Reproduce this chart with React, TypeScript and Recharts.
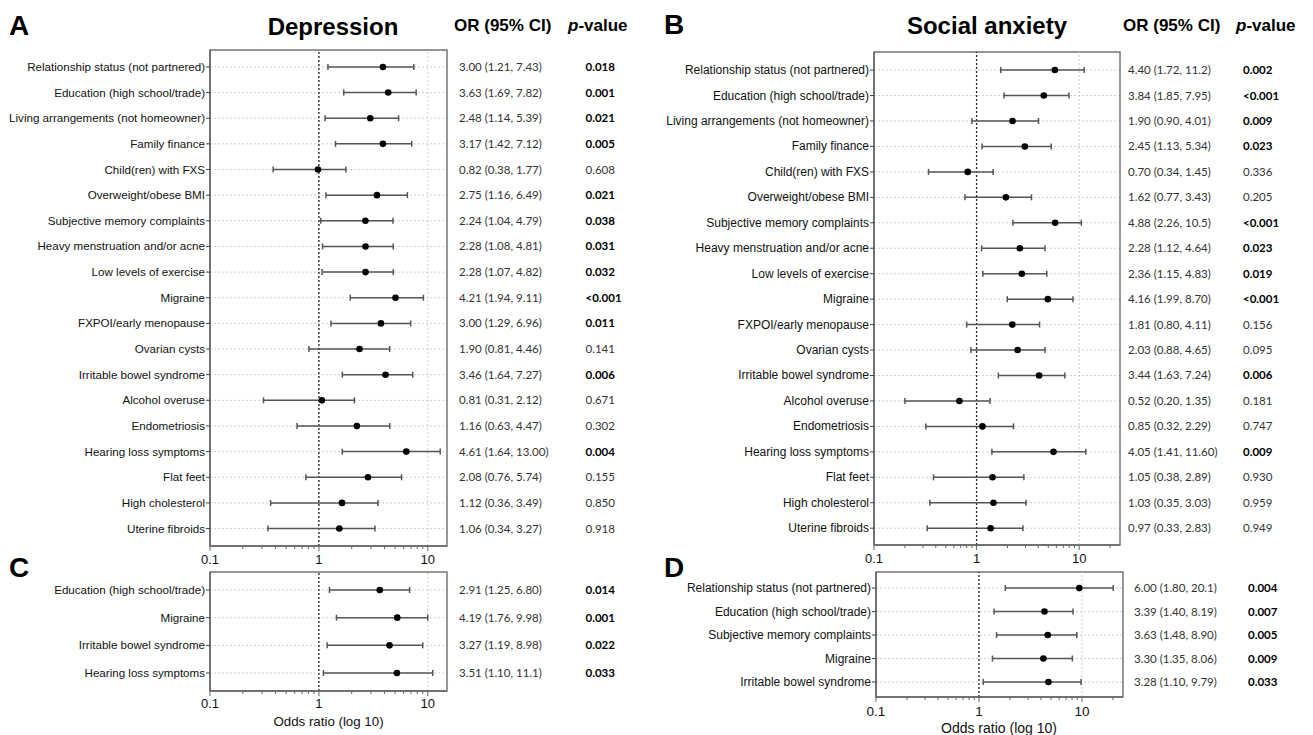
import React from 'react';
import {
  ScatterChart,
  Scatter,
  XAxis,
  YAxis,
  CartesianGrid,
  ErrorBar,
  ReferenceLine,
  ReferenceArea,
} from 'recharts';

// ---- data ----
const factorsFull = [
  'Relationship status (not partnered)',
  'Education (high school/trade)',
  'Living arrangements (not homeowner)',
  'Family finance',
  'Child(ren) with FXS',
  'Overweight/obese BMI',
  'Subjective memory complaints',
  'Heavy menstruation and/or acne',
  'Low levels of exercise',
  'Migraine',
  'FXPOI/early menopause',
  'Ovarian cysts',
  'Irritable bowel syndrome',
  'Alcohol overuse',
  'Endometriosis',
  'Hearing loss symptoms',
  'Flat feet',
  'High cholesterol',
  'Uterine fibroids',
];

// A: depression
const depDot = [3.87, 4.33, 2.96, 3.87, 0.98, 3.41, 2.67, 2.68, 2.68, 5.05, 3.71, 2.36, 4.09, 1.065, 2.23, 6.34, 2.82, 1.63, 1.54];
const depLow = [1.21, 1.69, 1.14, 1.42, 0.38, 1.16, 1.04, 1.08, 1.07, 1.94, 1.29, 0.81, 1.64, 0.31, 0.63, 1.64, 0.76, 0.36, 0.34];
const depHigh = [7.43, 7.82, 5.39, 7.12, 1.77, 6.49, 4.79, 4.81, 4.82, 9.11, 6.96, 4.46, 7.27, 2.12, 4.47, 13.0, 5.74, 3.49, 3.27];
const depCI = [
  '3.00 (1.21, 7.43)', '3.63 (1.69, 7.82)', '2.48 (1.14, 5.39)', '3.17 (1.42, 7.12)', '0.82 (0.38, 1.77)',
  '2.75 (1.16, 6.49)', '2.24 (1.04, 4.79)', '2.28 (1.08, 4.81)', '2.28 (1.07, 4.82)', '4.21 (1.94, 9.11)',
  '3.00 (1.29, 6.96)', '1.90 (0.81, 4.46)', '3.46 (1.64, 7.27)', '0.81 (0.31, 2.12)', '1.16 (0.63, 4.47)',
  '4.61 (1.64, 13.00)', '2.08 (0.76, 5.74)', '1.12 (0.36, 3.49)', '1.06 (0.34, 3.27)',
];
const depP = ['0.018', '0.001', '0.021', '0.005', '0.608', '0.021', '0.038', '0.031', '0.032', '<0.001', '0.011', '0.141', '0.006', '0.671', '0.302', '0.004', '0.155', '0.850', '0.918'];

// B: social anxiety
const saDot = [5.79, 4.52, 2.24, 2.95, 0.82, 1.93, 5.83, 2.64, 2.76, 4.95, 2.23, 2.51, 4.07, 0.68, 1.14, 5.62, 1.43, 1.46, 1.37];
const saLow = [1.72, 1.85, 0.9, 1.13, 0.34, 0.77, 2.26, 1.12, 1.15, 1.99, 0.8, 0.88, 1.63, 0.2, 0.32, 1.41, 0.38, 0.35, 0.33];
const saHigh = [11.2, 7.95, 4.01, 5.34, 1.45, 3.43, 10.5, 4.64, 4.83, 8.7, 4.11, 4.65, 7.24, 1.35, 2.29, 11.6, 2.89, 3.03, 2.83];
const saCI = [
  '4.40 (1.72, 11.2)', '3.84 (1.85, 7.95)', '1.90 (0.90, 4.01)', '2.45 (1.13, 5.34)', '0.70 (0.34, 1.45)',
  '1.62 (0.77, 3.43)', '4.88 (2.26, 10.5)', '2.28 (1.12, 4.64)', '2.36 (1.15, 4.83)', '4.16 (1.99, 8.70)',
  '1.81 (0.80, 4.11)', '2.03 (0.88, 4.65)', '3.44 (1.63, 7.24)', '0.52 (0.20, 1.35)', '0.85 (0.32, 2.29)',
  '4.05 (1.41, 11.60)', '1.05 (0.38, 2.89)', '1.03 (0.35, 3.03)', '0.97 (0.33, 2.83)',
];
const saP = ['0.002', '<0.001', '0.009', '0.023', '0.336', '0.205', '<0.001', '0.023', '0.019', '<0.001', '0.156', '0.095', '0.006', '0.181', '0.747', '0.009', '0.930', '0.959', '0.949'];

// C: depression, adjusted
const factorsC = ['Education (high school/trade)', 'Migraine', 'Irritable bowel syndrome', 'Hearing loss symptoms'];
const cDot = [3.62, 5.24, 4.45, 5.2];
const cLow = [1.25, 1.45, 1.19, 1.1];
const cHigh = [6.8, 9.98, 8.98, 11.1];
const cCI = ['2.91 (1.25, 6.80)', '4.19 (1.76, 9.98)', '3.27 (1.19, 8.98)', '3.51 (1.10, 11.1)'];
const cP = ['0.014', '0.001', '0.022', '0.033'];

// D: social anxiety, adjusted
const factorsD = ['Relationship status (not partnered)', 'Education (high school/trade)', 'Subjective memory complaints', 'Migraine', 'Irritable bowel syndrome'];
const dDot = [9.42, 4.32, 4.65, 4.22, 4.72];
const dLow = [1.8, 1.4, 1.48, 1.35, 1.1];
const dHigh = [20.1, 8.19, 8.9, 8.06, 9.79];
const dCI = ['6.00 (1.80, 20.1)', '3.39 (1.40, 8.19)', '3.63 (1.48, 8.90)', '3.30 (1.35, 8.06)', '3.28 (1.10, 9.79)'];
const dP = ['0.004', '0.007', '0.005', '0.009', '0.033'];

const minorLow = [0.2, 0.3, 0.4, 0.5, 0.6, 0.7, 0.8, 0.9];
const minorMid = [2, 3, 4, 5, 6, 7, 8, 9];
const majorTicks = [0.1, 1, 10];

const ARIAL = '"Liberation Sans", Arial, sans-serif';
const TABLE_FONT = 'Lato, "Open Sans", sans-serif';

const isSig = (p: string) => p.startsWith('<') || parseFloat(p) < 0.05;

const LogTick = (props: any) => {
  const { x, y, payload, labelDy, fontSize } = props;
  const v = payload.value;
  const major = majorTicks.includes(v);
  return (
    <g>
      <line x1={x} x2={x} y1={y} y2={y + (major ? 5 : 3)} stroke="#666" strokeWidth={1} />
      {major && (
        <text x={x} y={y + labelDy} textAnchor="middle" fontSize={fontSize} fontFamily={ARIAL} fill="#111">
          {v}
        </text>
      )}
    </g>
  );
};

// factor name on the left, with its small tick mark
const FactorTick = (props: any) => {
  const { x, y, payload, labels, fontSize } = props;
  const name = labels[Math.round(payload.value) - 1];
  if (!name) return null;
  return (
    <g>
      <line x1={x} x2={x + 4} y1={y} y2={y} stroke="#444" strokeWidth={1} />
      <text x={x - 1} y={y} dy={4} textAnchor="end" fontSize={fontSize} fontFamily={ARIAL} fill="#111">
        {name}
      </text>
    </g>
  );
};

const StatsTick = (props: any) => {
  const { x, y, payload, ci, p, ciDx, pDx } = props;
  const i = Math.round(payload.value) - 1;
  if (!ci[i]) return null;
  return (
    <g>
      <text x={x + ciDx} y={y} dy={4} fontSize={11.5} fontFamily={TABLE_FONT} fill="#333">
        {ci[i]}
      </text>
      <text x={x + pDx} y={y} dy={4} fontSize={11.5} fontFamily={TABLE_FONT} fill={isSig(p[i]) ? '#000' : '#333'} fontWeight={isSig(p[i]) ? 700 : 400}>
        {p[i]}
      </text>
    </g>
  );
};

const Dot = (props: any) => <circle cx={props.cx} cy={props.cy} r={3.3} fill="#000" />;

type ForestProps = {
  labels: string[];
  dot: number[];
  low: number[];
  high: number[];
  ci: string[];
  p: string[];
  left: number;
  top: number;
  height: number;
  marginTop: number;
  leftWidth: number;
  rightWidth: number;
  xMax: number;
  yDomain: [number, number];
  labelFont: number;
  ciDx: number;
  pDx: number;
  axisHeight: number;
  tickDy: number;
  tickFont: number;
};

const Forest = (f: ForestProps) => {
  const rows = f.labels.map((label, i) => ({
    y: i + 1,
    x: f.dot[i],
    err: [f.dot[i] - f.low[i], f.high[i] - f.dot[i]],
  }));
  const yTicks = f.labels.map((_, i) => i + 1);
  const xTicks = [0.1, ...minorLow, 1, ...minorMid, 10, ...(f.xMax > 20 ? [20] : [])];
  return (
    <div style={{ position: 'absolute', left: f.left, top: f.top }}>
      <ScatterChart width={650} height={f.height} margin={{ top: f.marginTop, right: 0, bottom: 0, left: 0 }}>
        <CartesianGrid yAxisId="left" vertical={false} stroke="#cfcfcf" strokeDasharray="2 2" />
        <XAxis
          type="number"
          dataKey="x"
          scale="log"
          domain={[0.1, f.xMax]}
          allowDataOverflow
          ticks={xTicks}
          interval={0}
          height={f.axisHeight}
          tickSize={0}
          tickMargin={0}
          axisLine={{ stroke: '#666', strokeWidth: 1.5 }}
          tick={<LogTick labelDy={f.tickDy} fontSize={f.tickFont} />}
        />
        <YAxis
          yAxisId="left"
          type="number"
          dataKey="y"
          domain={f.yDomain}
          allowDataOverflow
          reversed
          ticks={yTicks}
          interval={0}
          width={f.leftWidth}
          tickSize={4}
          tickMargin={0}
          tickLine={false}
          axisLine={{ stroke: '#666', strokeWidth: 1.5 }}
          tick={<FactorTick labels={f.labels} fontSize={f.labelFont} />}
        />
        <YAxis
          yAxisId="right"
          orientation="right"
          type="number"
          dataKey="y"
          domain={f.yDomain}
          allowDataOverflow
          reversed
          ticks={yTicks}
          interval={0}
          width={f.rightWidth}
          tickSize={0}
          tickMargin={0}
          axisLine={false}
          tickLine={false}
          tick={<StatsTick ci={f.ci} p={f.p} ciDx={f.ciDx} pDx={f.pDx} />}
        />
        <ReferenceArea
          yAxisId="left"
          x1={0.1}
          x2={f.xMax}
          y1={f.yDomain[0]}
          y2={f.yDomain[1]}
          fill="none"
          stroke="#777"
          strokeWidth={1.5}
          fillOpacity={0}
        />
        <ReferenceLine yAxisId="left" x={10} stroke="#cfcfcf" strokeDasharray="2 2" />
        <ReferenceLine yAxisId="left" x={1} stroke="#222" strokeWidth={1.3} strokeDasharray="2 2" />
        <Scatter yAxisId="left" data={rows} shape={<Dot />} isAnimationActive={false}>
          <ErrorBar dataKey="err" direction="x" width={3} stroke="#555" strokeWidth={1.5} />
        </Scatter>
      </ScatterChart>
    </div>
  );
};

export default function App() {
  return (
    <div style={{ position: 'absolute', left: 0, top: 0, width: 1313, height: 735, background: '#fff', overflow: 'hidden' }}>
      <Forest
        labels={factorsFull} dot={depDot} low={depLow} high={depHigh} ci={depCI} p={depP}
        left={0} top={0} height={576} marginTop={50} leftWidth={210} rightWidth={203}
        xMax={15} yDomain={[0.34, 19.68]} labelFont={11.6} ciDx={12} pDx={138.5}
        axisHeight={30} tickDy={17.5} tickFont={13}
      />
      <Forest
        labels={factorsC} dot={cDot} low={cLow} high={cHigh} ci={cCI} p={cP}
        left={0} top={560} height={171} marginTop={12} leftWidth={210} rightWidth={203}
        xMax={15} yDomain={[0.35, 4.65]} labelFont={11.6} ciDx={12} pDx={138.5}
        axisHeight={40} tickDy={17} tickFont={13}
      />
      <Forest
        labels={factorsFull} dot={saDot} low={saLow} high={saHigh} ci={saCI} p={saP}
        left={660} top={0} height={575} marginTop={52} leftWidth={214} rightWidth={190}
        xMax={25} yDomain={[0.29, 19.66]} labelFont={12} ciDx={8} pDx={123}
        axisHeight={30} tickDy={17.7} tickFont={13}
      />
      <Forest
        labels={factorsD} dot={dDot} low={dLow} high={dHigh} ci={dCI} p={dP}
        left={660} top={560} height={175} marginTop={12} leftWidth={216} rightWidth={187}
        xMax={25} yDomain={[0.315, 5.64]} labelFont={12} ciDx={11} pDx={125}
        axisHeight={38} tickDy={19} tickFont={13.5}
      />
      <svg width={1313} height={735} style={{ position: 'absolute', left: 0, top: 0, pointerEvents: 'none' }}>
        <g fontFamily={ARIAL} fontWeight={700} fill="#000">
          <text x={9} y={35} fontSize={28}>A</text>
          <text x={333} y={35} fontSize={24} textAnchor="middle">Depression</text>
          <text x={454} y={31} fontSize={17}>OR (95% CI)</text>
          <text x={568} y={31} fontSize={17}>
            <tspan fontStyle="italic">p</tspan>-value
          </text>
          <text x={664} y={34} fontSize={28}>B</text>
          <text x={987} y={34} fontSize={24} textAnchor="middle">Social anxiety</text>
          <text x={1123} y={31} fontSize={17}>OR (95% CI)</text>
          <text x={1236} y={31} fontSize={17}>
            <tspan fontStyle="italic">p</tspan>-value
          </text>
          <text x={9} y={577} fontSize={28}>C</text>
          <text x={664} y={577} fontSize={28}>D</text>
        </g>
        <g fontFamily={ARIAL} fill="#111">
          <text x={328.5} y={726} fontSize={13.3} textAnchor="middle">Odds ratio (log 10)</text>
          <text x={999} y={733} fontSize={14} textAnchor="middle">Odds ratio (log 10)</text>
        </g>
      </svg>
    </div>
  );
}
